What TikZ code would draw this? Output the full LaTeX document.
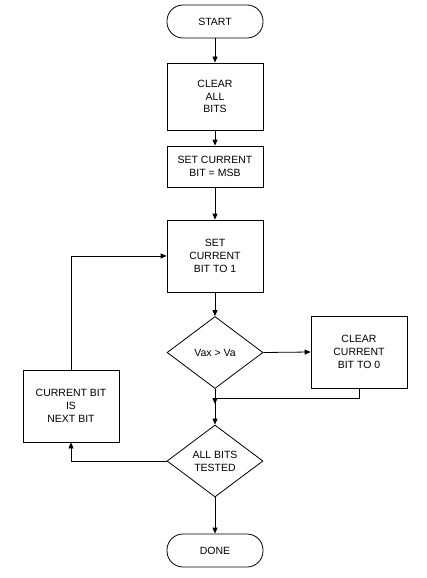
\documentclass[tikz,border=0pt]{standalone}
\usepackage{fontspec}
\setmainfont{Liberation Sans}
\usetikzlibrary{shapes.geometric,arrows.meta}
\begin{document}
\begin{tikzpicture}[x=1pt,y=-1pt,
  base/.style={draw=black,line width=0.8pt,align=center,inner sep=0pt,
    font=\fontsize{10.5}{12.8}\selectfont},
  term/.style={base,minimum width=96pt,minimum height=33pt,rounded corners=16pt},
  proc/.style={base,minimum width=96pt},
  dec/.style={base,diamond,minimum width=96pt,minimum height=72pt},
  arr/.style={line width=0.8pt,-{Triangle[length=6pt,width=5pt]}},
  ln/.style={line width=0.8pt}]
\useasboundingbox (0,0) rectangle (426,578);
\node[term] (start) at (215,21.5) {START};
\node[proc,minimum height=67pt] (clear) at (215,96.5) {CLEAR\\ALL\\BITS};
\node[proc,minimum height=41pt] (msb) at (215,166.5) {SET CURRENT\\BIT = MSB};
\node[proc,minimum height=72pt] (set) at (215,256) {SET\\CURRENT\\BIT TO 1};
\node[dec] (cmp) at (215,352.5) {Vax > Va};
\node[proc,minimum height=72pt] (clr) at (359,352) {CLEAR\\CURRENT\\BIT TO 0};
\node[dec] (test) at (215,461) {ALL BITS\\TESTED};
\node[proc,minimum height=72pt] (next) at (71,406) {CURRENT BIT\\IS\\NEXT BIT};
\node[term] (done) at (215,550.5) {DONE};
\coordinate (join) at (215,398);
\coordinate (jtip) at (215,404);
\draw[arr] (start) -- (clear);
\draw[arr] (clear) -- (msb);
\draw[arr] (msb) -- (set);
\draw[arr] (set) -- (cmp);
\draw[arr] (cmp.east) -- (clr.west);
\draw[arr] (cmp.south) -- (test.north);
\draw[arr] (clr.south) |- (join) -- (jtip);
\draw[arr] (test.west) -| (next.south);
\draw[arr] (next.north) |- (set.west);
\draw[arr] (test.south) -- (done.north);
\end{tikzpicture}
\end{document}
